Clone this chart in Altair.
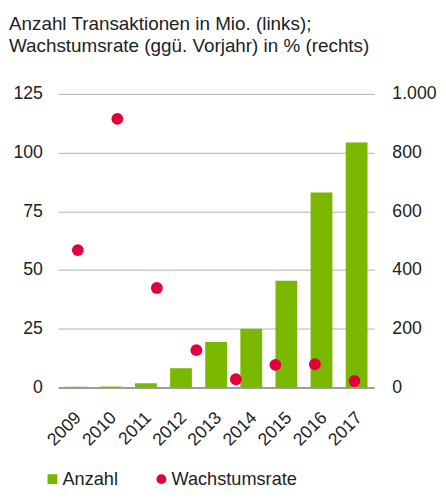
import altair as alt
import pandas as pd

FONT = "Liberation Sans"
GREEN = "#7ab800"
RED = "#e2003c"

years = ["2009", "2010", "2011", "2012", "2013", "2014", "2015", "2016", "2017"]
anzahl = [0.3, 0.4, 1.8, 8.2, 19.4, 25.0, 45.4, 83.0, 104.3]

growth_years = ["2010", "2011", "2012", "2013", "2014", "2015", "2016", "2017"]
wachstum = [468, 915, 339, 127, 28, 77, 79, 22]

left_ticks = [0, 25, 50, 75, 100, 125]
right_ticks = [0, 200, 400, 600, 800, 1000]
series = ["Anzahl", "Wachstumsrate"]

df_bar = pd.DataFrame({"Jahr": years, "Wert": anzahl, "Serie": "Anzahl"})
df_pt = pd.DataFrame({"Jahr": growth_years, "Rate": wachstum, "Serie": "Wachstumsrate"})

color_scale = alt.Scale(domain=series, range=[GREEN, RED])
shape_scale = alt.Scale(domain=series, range=["square", "circle"])
legend = alt.Legend(
    title=None,
    orient="none",
    direction="horizontal",
    legendX=-15,
    legendY=383,
    symbolSize=100,
    symbolStrokeWidth=0,
    labelFont=FONT,
    labelFontSize=18.5,
    labelColor="#222222",
    labelOffset=1,
    columnPadding=34,
)

bars = alt.Chart(df_bar).mark_bar(color=GREEN).encode(
    x=alt.X(
        "Jahr:O",
        sort=years,
        scale=alt.Scale(paddingInner=0.38, paddingOuter=0.19),
        axis=alt.Axis(
            title=None,
            labelAngle=-45,
            labelAlign="right",
            labelBaseline="middle",
            labelPadding=28,
            labelOffset=3,
            labelFont=FONT,
            labelFontSize=18,
            labelColor="#222222",
            ticks=False,
            domain=True,
            domainColor="#888888",
            domainWidth=1.5,
            grid=False,
        ),
    ),
    y=alt.Y(
        "Wert:Q",
        scale=alt.Scale(domain=[0, 125], nice=False),
        axis=alt.Axis(
            title=None,
            values=left_ticks,
            grid=True,
            gridColor="#b0b0b0",
            gridWidth=1,
            domain=False,
            ticks=False,
            labelPadding=16,
            labelFont=FONT,
            labelFontSize=18,
            labelColor="#222222",
        ),
    ),
    color=alt.Color("Serie:N", scale=color_scale, legend=legend),
)

points = alt.Chart(df_pt).mark_point(size=145, filled=True, opacity=1).encode(
    x=alt.X("Jahr:O", sort=growth_years, axis=None),
    y=alt.Y(
        "Rate:Q",
        scale=alt.Scale(domain=[0, 1000], nice=False),
        axis=alt.Axis(
            title=None,
            orient="right",
            values=right_ticks,
            grid=False,
            domain=False,
            ticks=False,
            labelPadding=18,
            labelFont=FONT,
            labelFontSize=18,
            labelColor="#222222",
            labelExpr="replace(format(datum.value, ','), ',', '.')",
        ),
    ),
    color=alt.Color("Serie:N", scale=color_scale, legend=legend),
    shape=alt.Shape("Serie:N", scale=shape_scale, legend=legend),
)

chart = (
    alt.layer(bars, points)
    .resolve_scale(x="independent", y="independent")
    .properties(
        width=322,
        height=299,
        autosize=alt.AutoSizeParams(type="none"),
        padding={"left": 51, "top": 83, "right": 65, "bottom": 104},
        title=alt.TitleParams(
            text=["Anzahl Transaktionen in Mio. (links);", "Wachstumsrate (ggü. Vorjahr) in % (rechts)"],
            anchor="start",
            frame="group",
            dx=-50,
            fontSize=19.2,
            fontWeight="normal",
            font=FONT,
            color="#222222",
            lineHeight=22,
            offset=30,
        ),
    )
    .configure_view(stroke=None)
)

chart.save("out.html", embed_options={"renderer": "svg", "actions": False})
